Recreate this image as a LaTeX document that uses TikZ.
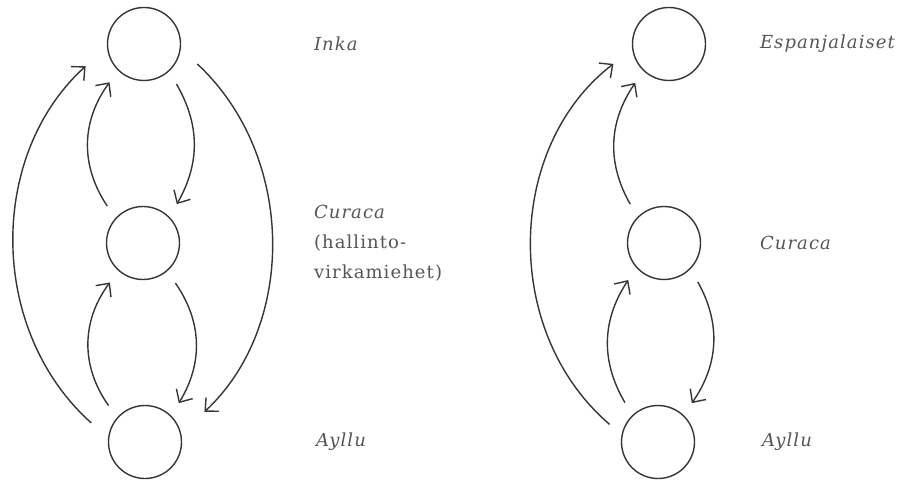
\documentclass[tikz,border=0pt]{standalone}
\usepackage{fontspec}
\setmainfont[LetterSpace=6]{DejaVu Serif}
\usetikzlibrary{positioning,arrows.meta}
\definecolor{ink}{HTML}{353535}
\definecolor{txt}{HTML}{555555}

\begin{document}
\begin{tikzpicture}[x=1pt,y=1pt,
    ring/.style={circle, draw=ink, line width=1.4pt, minimum size=73pt, inner sep=0pt, outer sep=15pt},
    flow/.style={draw=ink, line width=1.4pt, -{Straight Barb[length=10pt,width=19pt]}},
    lbl/.style={text=txt, font=\fontsize{18pt}{30pt}\selectfont, align=left}]
    \useasboundingbox (0,0) rectangle (902,-481);
    % vasen kaavio
    \node[ring] (inka) at (144,-44) {};
    \node[ring] (cur) at (143,-243) {};
    \node[ring] (ayl) at (145,-442) {};
    \node[lbl, right=115pt of inka] (tinka) {\textit{Inka}};
    \node[lbl, right=116pt of cur] (tcur) {\textit{Curaca}\\(hallinto-\\virkamiehet)};
    \node[lbl, right=116pt of ayl] (tayl) {\textit{Ayllu}};
    \draw[flow] (cur.134) to[bend left=35] (inka.228);
    \draw[flow] (inka.309) to[bend left=30] (cur.49);
    \draw[flow] (ayl.135) to[bend left=36] (cur.230);
    \draw[flow] (cur.309) to[bend left=33] (ayl.49);
    \draw[flow, shorten <=6pt, shorten >=12pt] (ayl.163) to[bend left=48] (inka.196);
    \draw[flow, shorten <=6pt, shorten >=16pt] (inka.342) to[bend left=47] (ayl.22);
    % oikea kaavio
    \node[ring] (esp) at (669,-44) {};
    \node[ring] (cur2) at (664,-243) {};
    \node[ring] (ayl2) at (658,-442) {};
    \node[lbl, right=36pt of esp] (tesp) {\textit{Espanjalaiset}};
    \node[lbl, right=41pt of cur2] (tcur2) {\textit{Curaca}};
    \node[lbl, right=49pt of ayl2] (tayl2) {\textit{Ayllu}};
    \draw[flow] (cur2.131) to[bend left=32] (esp.229);
    \draw[flow] (ayl2.130) to[bend left=32] (cur2.226);
    \draw[flow] (cur2.311) to[bend left=32] (ayl2.49);
    \draw[flow, shorten >=8pt] (ayl2.160) to[bend left=51] (esp.197);
\end{tikzpicture}
\end{document}
